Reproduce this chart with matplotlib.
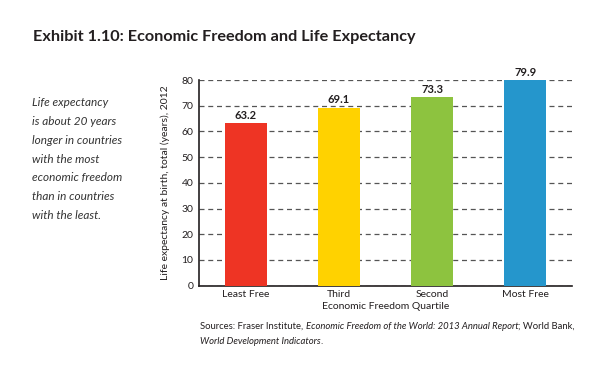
import matplotlib
matplotlib.use("Agg")
import matplotlib.pyplot as plt
from matplotlib.text import Annotation

plt.rcParams['font.family'] = ['Lato', 'DejaVu Sans']

quartiles = ["Least Free", "Third", "Second", "Most Free"]
life_exp = [63.2, 69.1, 73.3, 79.9]
bar_colors = ["#EE3424", "#FFD200", "#8DC33F", "#2596CC"]
yticks = [0, 10, 20, 30, 40, 50, 60, 70, 80]

side_lines = ["Life expectancy", "is about 20 years", "longer in countries",
              "with the most", "economic freedom", "than in countries",
              "with the least."]

# sources, regular and italic pieces
src_line1 = [("Sources: Fraser Institute, ", "normal"),
             ("Economic Freedom of the World: 2013 Annual Report", "italic"),
             ("; World Bank,", "normal")]
src_line2 = [("World Development Indicators", "italic"), (".", "normal")]

dark = "#231F20"

fig = plt.figure(figsize=(6.07, 3.70), dpi=100)
ax = fig.add_axes([199/607, 1-285.6/370, 373/607, 205.6/370])

x = range(len(quartiles))
ax.bar(x, life_exp, width=0.45, color=bar_colors, zorder=3)
for i, v in enumerate(life_exp):
    ax.text(i, v + 1.0, "{:.1f}".format(v), ha="center", va="bottom",
            fontsize=8, fontweight="bold", color=dark)

ax.set_xlim(-0.5, 3.5)
ax.set_ylim(0, 80)
ax.set_yticks(yticks)
ax.set_xticks(list(x))
ax.set_xticklabels(quartiles)
ax.tick_params(axis="both", length=0, labelsize=7.5, colors=dark)
ax.tick_params(axis="y", pad=4)
ax.tick_params(axis="x", pad=3)
ax.yaxis.grid(True, linestyle=(0, (4, 3)), color="#555555", linewidth=0.9, zorder=0)
ax.set_axisbelow(True)
for s in ["top", "right"]:
    ax.spines[s].set_visible(False)
for s in ["left", "bottom"]:
    ax.spines[s].set_color(dark)
    ax.spines[s].set_linewidth(1.2)

ax.set_xlabel("Economic Freedom Quartile", fontsize=7.5, color=dark, labelpad=2)
ax.set_ylabel("Life expectancy at birth, total (years), 2012", fontsize=7.5,
              color=dark, labelpad=8)

fig.text(33/607, 1-37/370, "Exhibit 1.10: Economic Freedom and Life Expectancy",
         fontsize=11.7, fontweight="bold", color=dark, va="center", ha="left")

for k, line in enumerate(side_lines):
    fig.text(32/607, 1-(103 + k*18.7)/370, line, fontsize=8.5, style="italic",
             color="#333333", va="center", ha="left")

def chain(parts, x0, y0, size=6.8):
    # each piece starts where the previous one ends
    t = fig.text(x0, y0, parts[0][0], fontsize=size, style=parts[0][1],
                 color=dark, va="bottom", ha="left")
    for txt, st in parts[1:]:
        t = fig.add_artist(Annotation(txt, xy=(1, 0), xycoords=t, fontsize=size,
                                      style=st, color=dark, va="bottom", ha="left"))
    return t

chain(src_line1, 200/607, 1-331/370)
chain(src_line2, 200/607, 1-346/370)

fig.savefig("out.png", dpi=100)
